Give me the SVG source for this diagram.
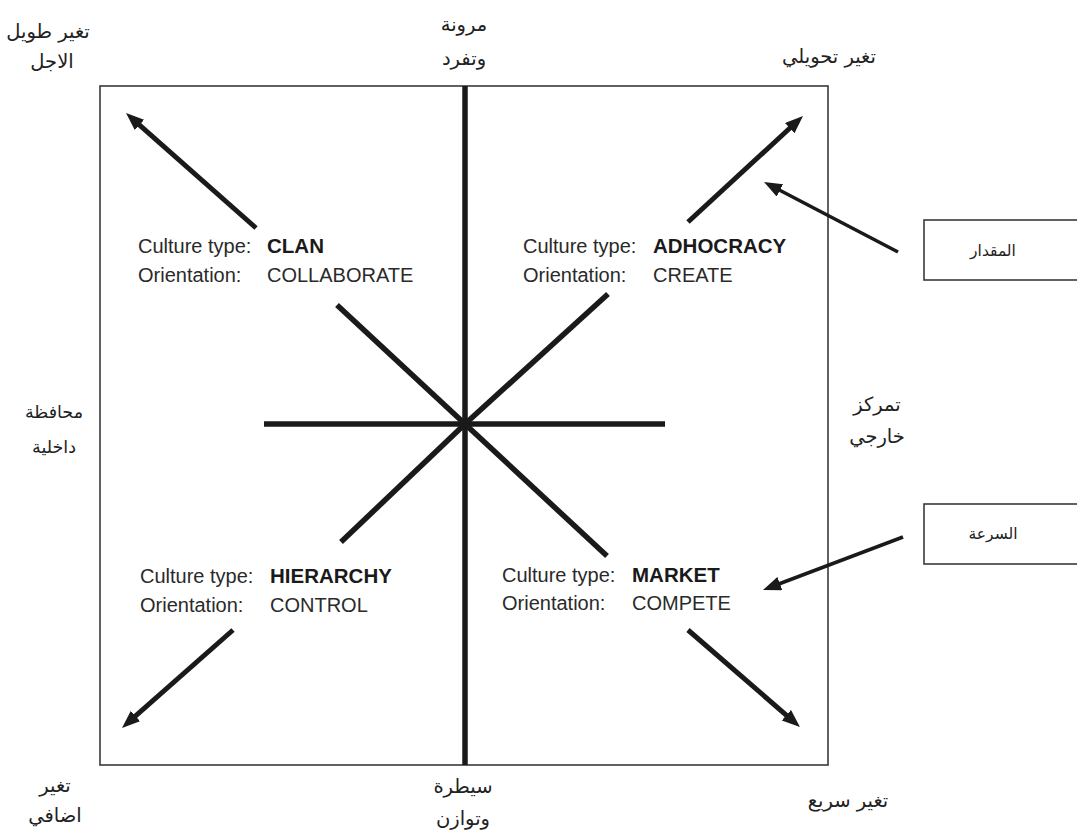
<svg xmlns="http://www.w3.org/2000/svg" width="1077" height="832" viewBox="0 0 1077 832">
<style>
.ar{font-family:"DejaVu Sans","Noto Sans",sans-serif;font-size:19.5px;fill:#222;text-anchor:middle;direction:rtl}
.sm{font-size:17.5px}
.bx{font-size:15.5px}
.en{font-family:"Liberation Sans",Arial,sans-serif;font-size:20px;fill:#2a2a2a}
.b{font-weight:bold;fill:#1a1a1a;font-size:20.5px}
.thick{stroke:#1a1a1a;stroke-width:5.5;fill:none}
.arr{stroke:#1a1a1a;stroke-width:5;fill:none;marker-end:url(#ah)}
.arr2{stroke:#1a1a1a;stroke-width:3.5;fill:none;marker-end:url(#ah)}
.frame{fill:#fff;stroke:#3a3a3a;stroke-width:1.6}
</style>
<defs>
<marker id="ah" markerUnits="userSpaceOnUse" markerWidth="20" markerHeight="16" refX="4" refY="7" orient="auto">
<path d="M0,0 L18,7 L0,14 z" fill="#1a1a1a"/>
</marker>
</defs>
<rect width="1077" height="832" fill="#fff"/>
<g id="frame"><rect class="frame" x="100" y="86" width="728" height="679"/></g>
<g id="connectors">
<line class="thick" x1="465" y1="86" x2="465" y2="765"/>
<line class="thick" x1="264" y1="424" x2="665" y2="424"/>
<line class="thick" x1="337" y1="305" x2="465" y2="424"/>
<line class="thick" x1="608" y1="294" x2="465" y2="424"/>
<line class="thick" x1="341" y1="542" x2="465" y2="424"/>
<line class="thick" x1="607" y1="556" x2="465" y2="424"/>
<line class="arr" x1="256" y1="228" x2="136.5" y2="122.3"/>
<line class="arr" x1="688" y1="222" x2="792.7" y2="125.5"/>
<line class="arr" x1="233" y1="630" x2="132.5" y2="718.7"/>
<line class="arr" x1="688" y1="630" x2="789.4" y2="717.8"/>
<line class="arr2" x1="898" y1="252" x2="776.4" y2="188.5"/>
<line class="arr2" x1="903" y1="537" x2="776.1" y2="585"/>
</g>
<g id="clan">
<text class="en" x="138" y="253">Culture type: <tspan class="b" x="267">CLAN</tspan></text>
<text class="en" x="138" y="282">Orientation:<tspan x="267">COLLABORATE</tspan></text>
</g>
<g id="adhocracy">
<text class="en" x="523" y="253">Culture type: <tspan class="b" x="653">ADHOCRACY</tspan></text>
<text class="en" x="523" y="282">Orientation:<tspan x="653">CREATE</tspan></text>
</g>
<g id="hierarchy">
<text class="en" x="140" y="583">Culture type: <tspan class="b" x="270">HIERARCHY</tspan></text>
<text class="en" x="140" y="612">Orientation:<tspan x="270">CONTROL</tspan></text>
</g>
<g id="market">
<text class="en" x="502" y="582">Culture type: <tspan class="b" x="632">MARKET</tspan></text>
<text class="en" x="502" y="610">Orientation:<tspan x="632">COMPETE</tspan></text>
</g>
<g id="box-magnitude">
<rect class="frame" x="924" y="220" width="160" height="60"/>
<text class="ar bx" x="993" y="256">المقدار</text>
</g>
<g id="box-speed">
<rect class="frame" x="924" y="504" width="160" height="60"/>
<text class="ar bx" x="993" y="539">السرعة</text>
</g>
<g id="label-longterm">
<text class="ar" x="48" y="38">تغير طويل</text>
<text class="ar" x="52" y="68">الاجل</text>
</g>
<g id="label-flex">
<text class="ar" x="464" y="31">مرونة</text>
<text class="ar" x="464" y="65">وتفرد</text>
</g>
<g id="label-transform">
<text class="ar" x="829" y="63">تغير تحويلي</text>
</g>
<g id="label-internal">
<text class="ar sm" x="54" y="418">محافظة</text>
<text class="ar sm" x="54" y="453">داخلية</text>
</g>
<g id="label-external">
<text class="ar" x="877" y="411">تمركز</text>
<text class="ar" x="877" y="443">خارجي</text>
</g>
<g id="label-incremental">
<text class="ar" x="55" y="792">تغير</text>
<text class="ar" x="55" y="822">اضافي</text>
</g>
<g id="label-control">
<text class="ar" x="463" y="793">سيطرة</text>
<text class="ar" x="463" y="825">وتوازن</text>
</g>
<g id="label-fast">
<text class="ar" x="848" y="807">تغير سريع</text>
</g>
</svg>
